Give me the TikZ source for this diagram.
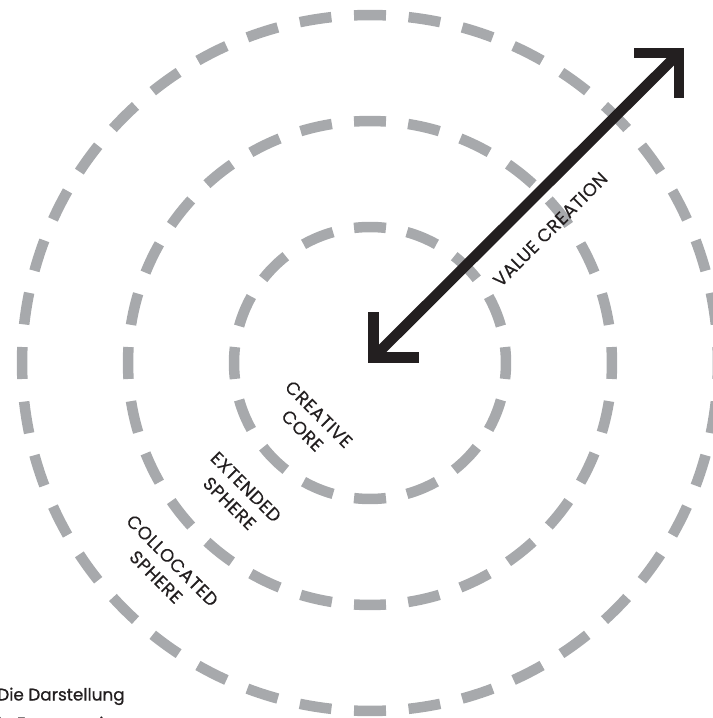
\documentclass[tikz,border=0pt]{standalone}
\usepackage{fontspec}
\setmainfont{Poppins}
\newfontfamily\ringfont[LetterSpace=3,FakeBold=0.3]{Poppins}
\newfontfamily\notefont[FakeBold=0.8]{Poppins}
\usetikzlibrary{calc}
\definecolor{ringgray}{RGB}{167,169,172}
\definecolor{inkblack}{RGB}{35,31,32}

\begin{document}
\begin{tikzpicture}[
  x=0.02cm, y=0.02cm,
  ringdash/.style={draw=ringgray, line width=0.21cm},
  valueline/.style={draw=inkblack, line width=0.21cm, miter limit=10},
  ringlabel/.style={font=\ringfont\fontsize{10.3}{13.2}\selectfont, text=inkblack, rotate=-45, align=center, inner sep=0pt},
  notetext/.style={font=\notefont\fontsize{9.6}{13}\selectfont, text=inkblack, inner sep=0pt, anchor=base west}
]
\useasboundingbox (0,0) rectangle (713,718);
\coordinate (ctr) at (370,355);
% dashed rings: radius / number of dashes
\foreach \r/\n in {136/16,242/28,348/40}{
  \pgfmathsetmacro\half{16/\r*180/pi}
  \foreach \k in {1,...,\n}{
    \pgfmathsetmacro\a{\k*360/\n}
    \draw[ringdash] (ctr) ++(\a-\half:\r) arc[start angle=\a-\half, end angle=\a+\half, radius=\r];
  }
}
% value creation arrow
\coordinate (vctail) at (373.5,360.5);
\coordinate (vchead) at (679,665);
\draw[valueline] (vctail) -- (vchead);
\draw[valueline] ([xshift=-45*0.02cm]vchead) -| ([yshift=-45*0.02cm]vchead);
\draw[valueline] ([yshift=45*0.02cm]vctail) |- ([xshift=45*0.02cm]vctail);
\node[font=\ringfont\fontsize{10.3}{13.2}\selectfont, text=inkblack, rotate=45, inner sep=0pt] (vclabel)
  at ($(vctail)!0.5!(vchead)!0.68cm!-90:(vchead)$) {VALUE CREATION};
% ring labels
\foreach \d/\nm/\txt in {84/core/{CREATIVE\\CORE},187/ext/{EXTENDED\\SPHERE},291/coll/{COLLOCATED\\SPHERE}}{
  \node[ringlabel] (\nm) at ([shift={(225:\d)}]ctr) {\txt};
}
\node[notetext] (note1) at (-3,17.5) {Die Darstellung};
\node[notetext] (note2) at (-3,-11.5) {in Formen wie};
\end{tikzpicture}
\end{document}
